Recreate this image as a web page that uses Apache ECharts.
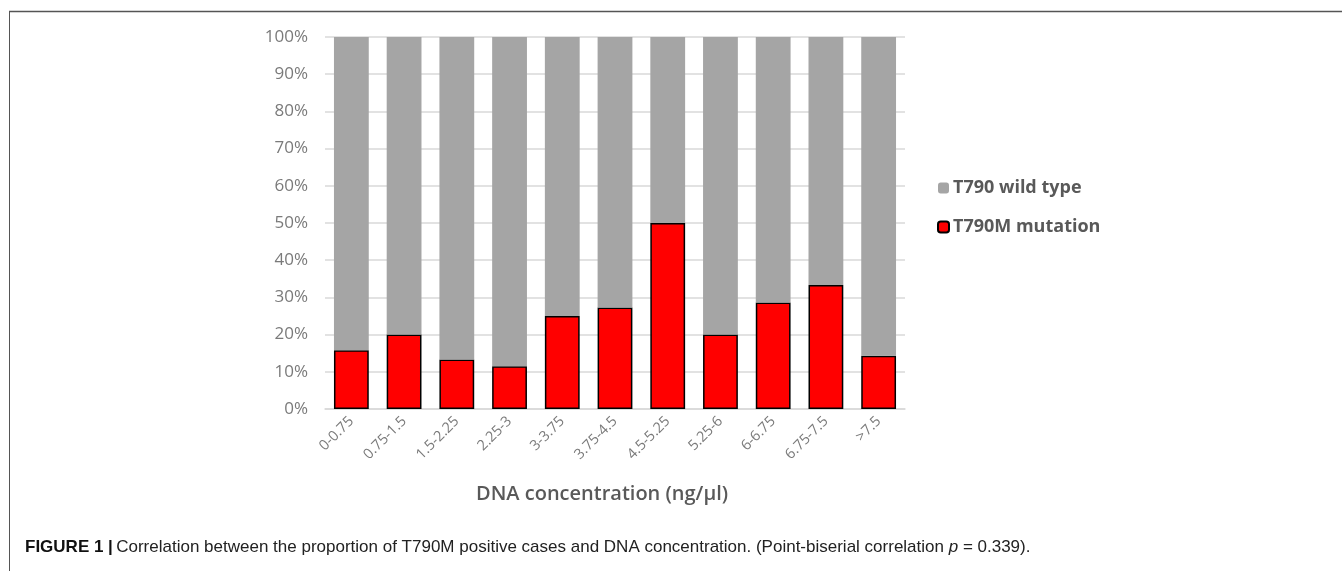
<!DOCTYPE html>
<html>
<head>
<meta charset="utf-8">
<script src="https://cdn.jsdelivr.net/npm/echarts@6/dist/echarts.min.js"></script>
<style>
html,body{margin:0;padding:0;background:#fff;}
#c{width:1342px;height:571px;}
</style>
</head>
<body>
<div id="c"></div>
<script>
const categories = ['0-0.75','0.75-1.5','1.5-2.25','2.25-3','3-3.75','3.75-4.5','4.5-5.25','5.25-6','6-6.75','6.75-7.5','>7.5'];
const mutation = [15.8, 20.0, 13.3, 11.5, 25.0, 27.3, 50.0, 20.0, 28.6, 33.3, 14.3];
const wildType = [84.2, 80.0, 86.7, 88.5, 75.0, 72.7, 50.0, 80.0, 71.4, 66.7, 85.7];
const yTicks = [0, 10, 20, 30, 40, 50, 60, 70, 80, 90, 100];

const chart = echarts.init(document.getElementById('c'), null, {renderer: 'canvas'});
chart.setOption({
  animation: false,
  backgroundColor: '#ffffff',
  grid: {left: 325, right: 1342 - 905, top: 37, bottom: 571 - 409},
  legend: {
    orient: 'vertical',
    left: 932,
    top: 174,
    itemWidth: 11,
    itemHeight: 11,
    itemGap: 21,
    data: ['T790 wild type', 'T790M mutation'],
    textStyle: {fontFamily: 'Open Sans', fontWeight: 'bold', fontSize: 18, color: '#595959', padding: [0,0,0,-1]}
  },
  xAxis: {
    type: 'category',
    data: categories,
    axisLine: {lineStyle: {color: '#d9d9d9', width: 1.5}},
    axisTick: {show: false},
    axisLabel: {rotate: 45, interval: 0, margin: 10, color: '#7a7a7a', fontFamily: 'Open Sans', fontSize: 14.5}
  },
  yAxis: {
    type: 'value',
    min: 0, max: 100, interval: 10,
    axisLine: {show: false},
    axisTick: {show: false},
    splitLine: {lineStyle: {color: '#d9d9d9', width: 1.5}},
    axisLabel: {margin: 17, color: '#7a7a7a', fontFamily: 'Open Sans', fontSize: 17,
      formatter: v => yTicks.includes(v) ? v + '%' : ''}
  },
  series: [
    {
      name: 'T790M mutation', type: 'bar', stack: 's', data: mutation,
      barCategoryGap: '34%',
      itemStyle: {color: '#ff0000', borderColor: '#000000', borderWidth: 1.5}
    },
    {
      name: 'T790 wild type', type: 'bar', stack: 's', data: wildType,
      barCategoryGap: '34%',
      itemStyle: {color: '#a5a5a5'}
    }
  ],
  graphic: [
    {type: 'line', shape: {x1: 9, y1: 11.5, x2: 1342, y2: 11.5}, style: {stroke: '#555555', lineWidth: 1.5}},
    {type: 'line', shape: {x1: 9.5, y1: 11, x2: 9.5, y2: 571}, style: {stroke: '#555555', lineWidth: 1}},
    {type: 'text', left: 476, top: 484, style: {
      text: 'DNA concentration (ng/µl)', fontFamily: 'Open Sans', fontSize: 20, fontWeight: 600, fill: '#595959'}},
    {type: 'text', left: 25, top: 539, style: {
      text: '{b|FIGURE 1 |} {n|Correlation between the proportion of T790M positive cases and DNA concentration. (Point-biserial correlation }{i|p}{n| = 0.339).}',
      rich: {
        b: {fontFamily: 'Liberation Sans', fontWeight: 'bold', fontSize: 17, fill: '#111111'},
        n: {fontFamily: 'Liberation Sans', fontSize: 17, fill: '#222222'},
        i: {fontFamily: 'Liberation Sans', fontStyle: 'italic', fontSize: 17, fill: '#222222'}
      }
    }}
  ]
});
</script>
</body>
</html>
